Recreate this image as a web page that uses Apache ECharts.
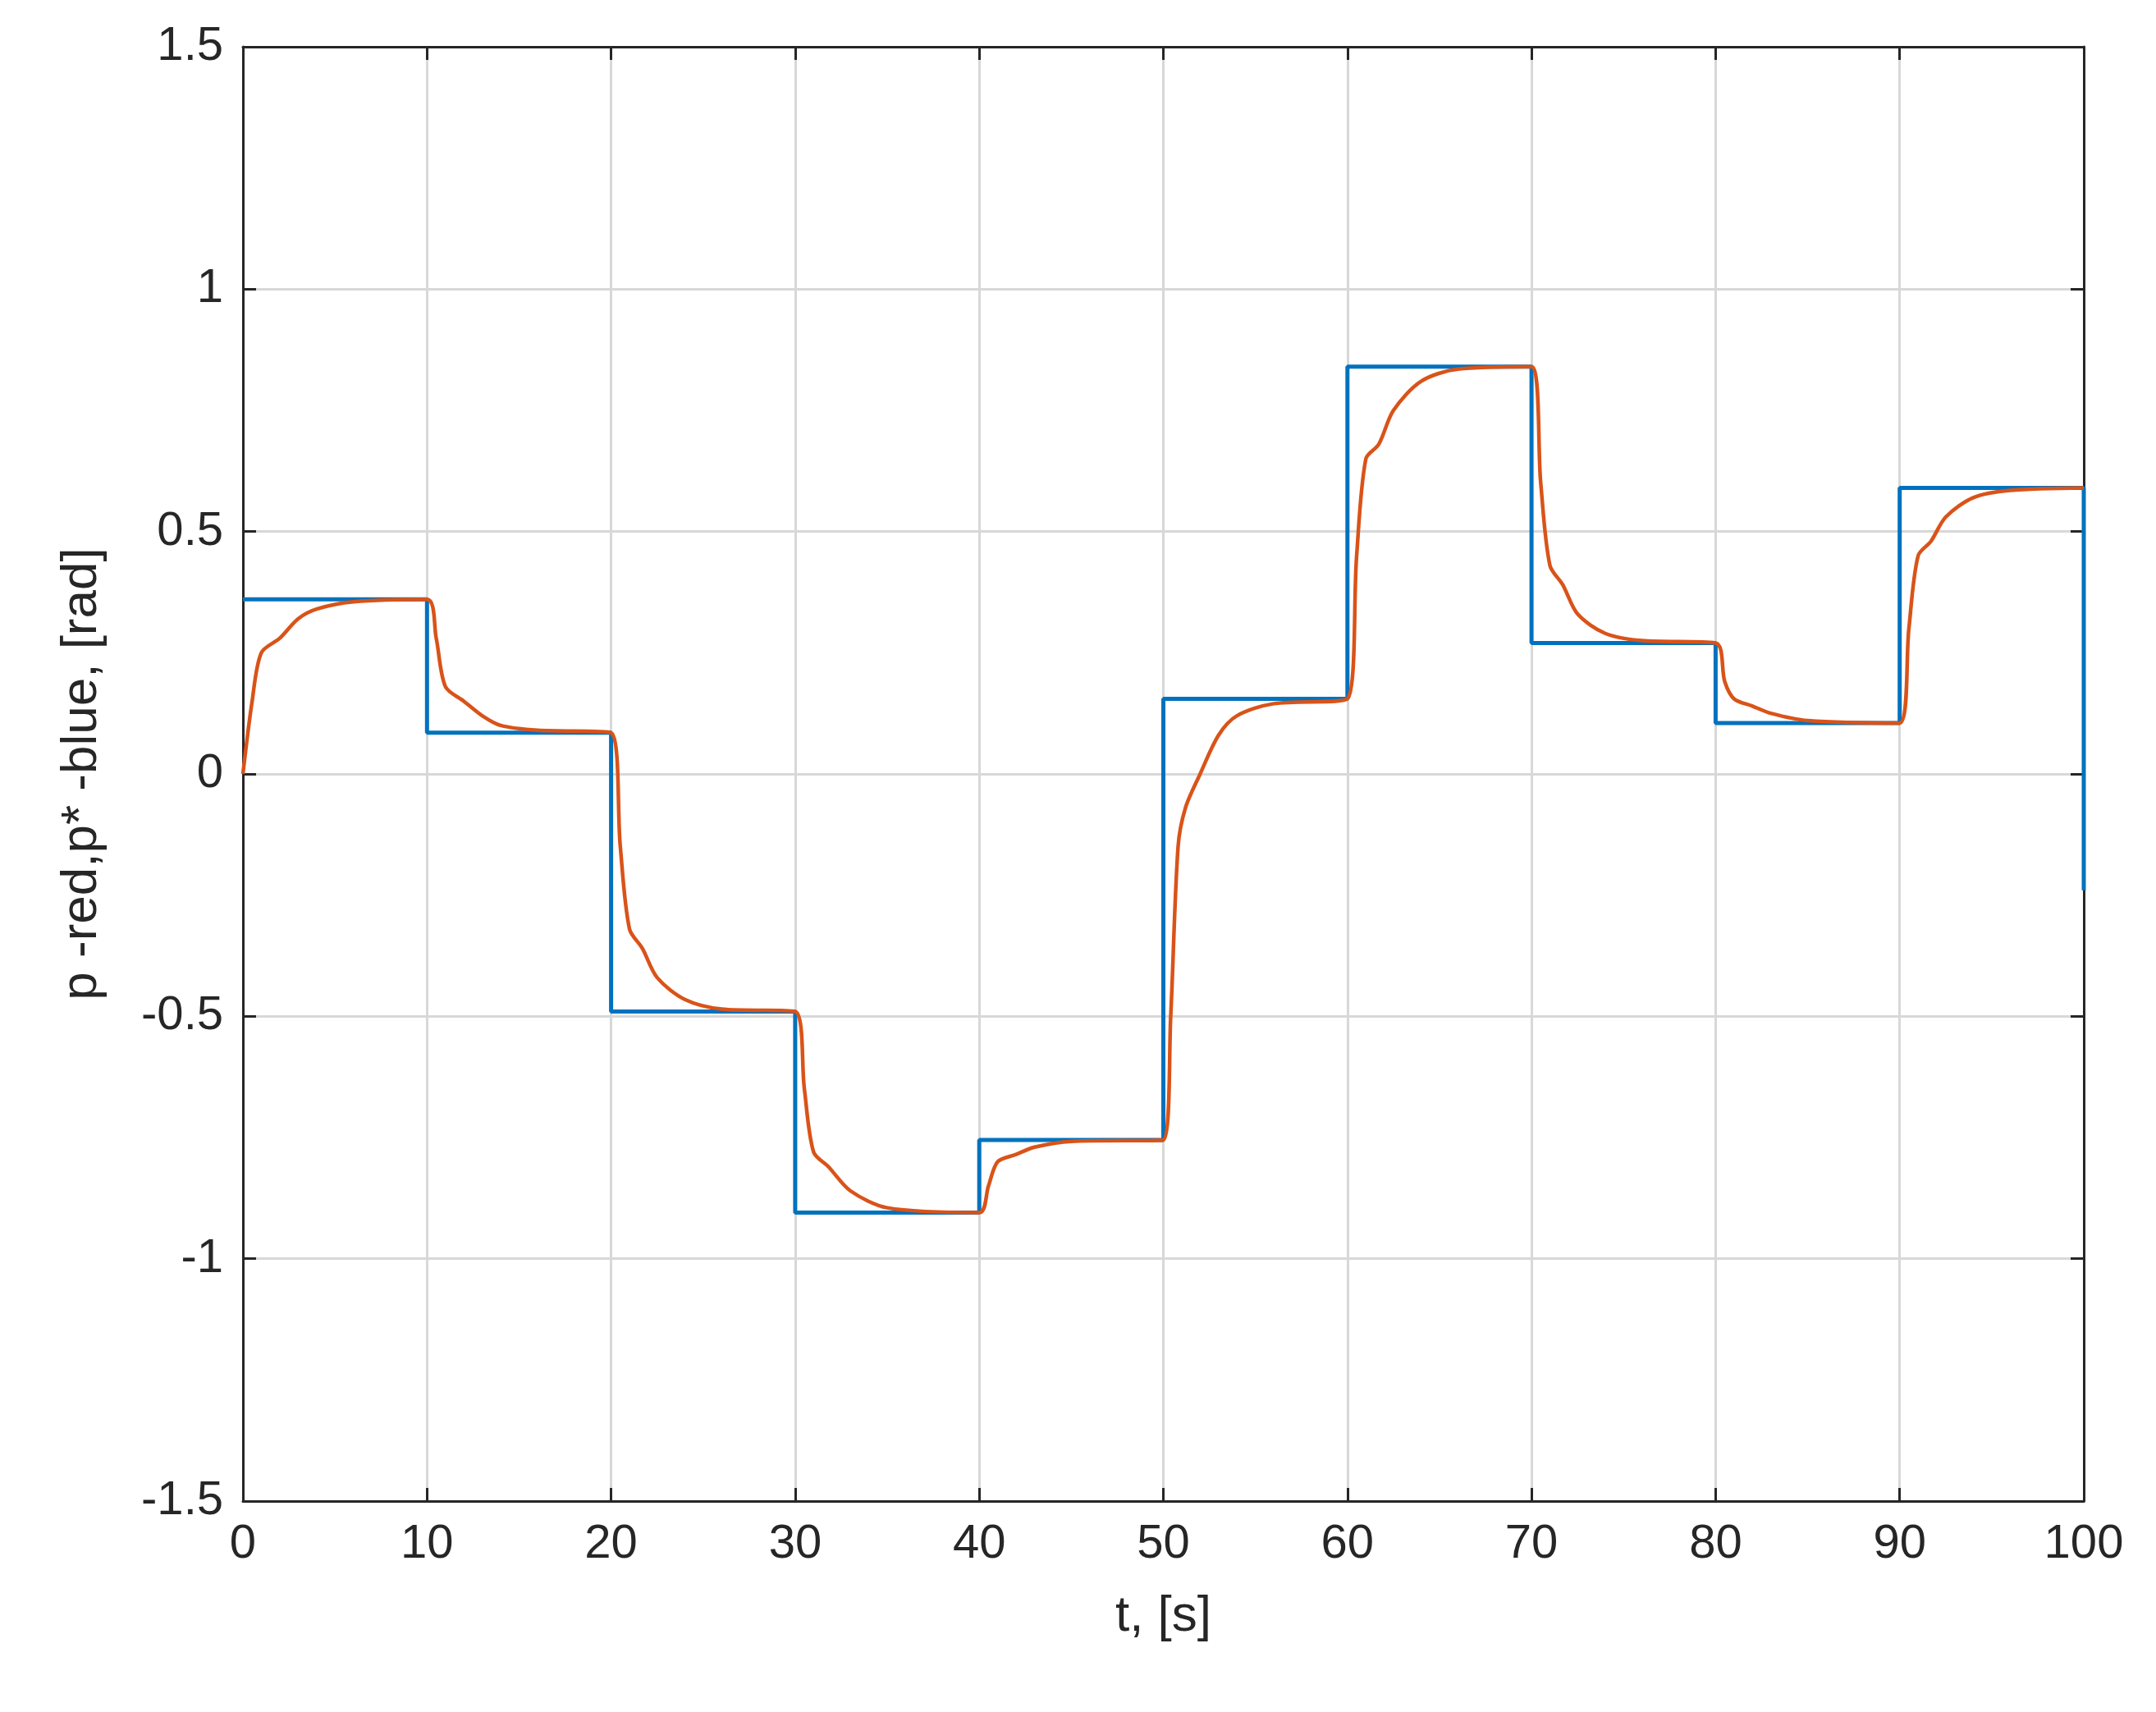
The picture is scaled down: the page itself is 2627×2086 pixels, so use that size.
<!DOCTYPE html>
<html><head><meta charset="utf-8">
<script src="https://cdn.jsdelivr.net/npm/echarts@6/dist/echarts.min.js"></script>
<style>html,body{margin:0;background:#fff}#c{width:2627px;height:2086px}</style>
</head><body><div id="c"></div>
<script>
const xTicks = [0,10,20,30,40,50,60,70,80,90,100];
const yTicks = [-1.5,-1,-0.5,0,0.5,1,1.5];
const refStep = [[0,0.36],[10,0.085],[20,-0.49],[30,-0.905],[40,-0.755],[50,0.155],[60,0.84],[70,0.27],[80,0.105],[90,0.59],[100,0.59],[100,-0.24]];
const response = [
[0,0],[0.5,0.15],[1,0.25],[2,0.28],[3,0.32],[4,0.34],[6,0.355],[10,0.36],
[10.5,0.28],[11,0.18],[12,0.15],[13,0.12],[14,0.1],[16,0.09],[20,0.085],
[20.5,-0.15],[21,-0.32],[21.7,-0.36],[22.5,-0.42],[24,-0.465],[26,-0.485],[30,-0.49],
[30.5,-0.65],[31,-0.78],[31.8,-0.81],[33,-0.86],[35,-0.895],[40,-0.905],
[40.5,-0.85],[41,-0.8],[42,-0.785],[43,-0.77],[45,-0.758],[50,-0.755],
[50.4,-0.5],[50.8,-0.15],[51.2,-0.07],[52,0],[53,0.08],[54,0.12],[56,0.145],[60,0.155],
[60.5,0.45],[61,0.65],[61.7,0.68],[62.5,0.75],[64,0.81],[66,0.835],[70,0.84],
[70.5,0.6],[71,0.43],[71.7,0.39],[72.5,0.33],[74,0.29],[76,0.275],[80,0.27],
[80.5,0.19],[81,0.155],[82,0.14],[83,0.125],[85,0.11],[90,0.105],
[90.5,0.3],[91,0.45],[91.7,0.48],[92.5,0.53],[94,0.57],[96,0.585],[100,0.59]];
const font = 'Liberation Sans, Arial, sans-serif';
const axLine = {show:true,onZero:false,lineStyle:{color:'#262626',width:3}};
const tick = {show:true,inside:true,length:16,lineStyle:{color:'#262626',width:3}};
const lab = {color:'#262626',fontSize:58,fontFamily:font,margin:24};
const chart = echarts.init(document.getElementById('c'));
chart.setOption({
  animation:false,
  grid:{left:296,right:88,top:57,bottom:257},
  xAxis:[
    {type:'value',min:0,max:100,interval:10,name:'t, [s]',nameLocation:'middle',nameGap:110,
     nameTextStyle:{color:'#262626',fontSize:62,fontFamily:font},
     axisLine:axLine,axisTick:tick,axisLabel:lab,
     splitLine:{show:true,lineStyle:{color:'#d8d8d8',width:3}}},
    {type:'value',position:'top',min:0,max:100,interval:10,axisLine:axLine,axisTick:tick,axisLabel:{show:false},splitLine:{show:false}}
  ],
  yAxis:[
    {type:'value',min:-1.5,max:1.5,interval:0.5,name:'p -red,p* -blue, [rad]',nameLocation:'middle',nameGap:165,
     nameTextStyle:{color:'#262626',fontSize:62,fontFamily:font},
     axisLine:axLine,axisTick:tick,axisLabel:lab,
     splitLine:{show:true,lineStyle:{color:'#d8d8d8',width:3}}},
    {type:'value',position:'right',min:-1.5,max:1.5,interval:0.5,axisLine:axLine,axisTick:tick,axisLabel:{show:false},splitLine:{show:false}}
  ],
  series:[
    {type:'line',step:'end',data:refStep,showSymbol:false,lineStyle:{color:'#0072BD',width:5}},
    {type:'line',data:response,smooth:0.3,showSymbol:false,lineStyle:{color:'#D95319',width:4.5}}
  ]
});
</script></body></html>
